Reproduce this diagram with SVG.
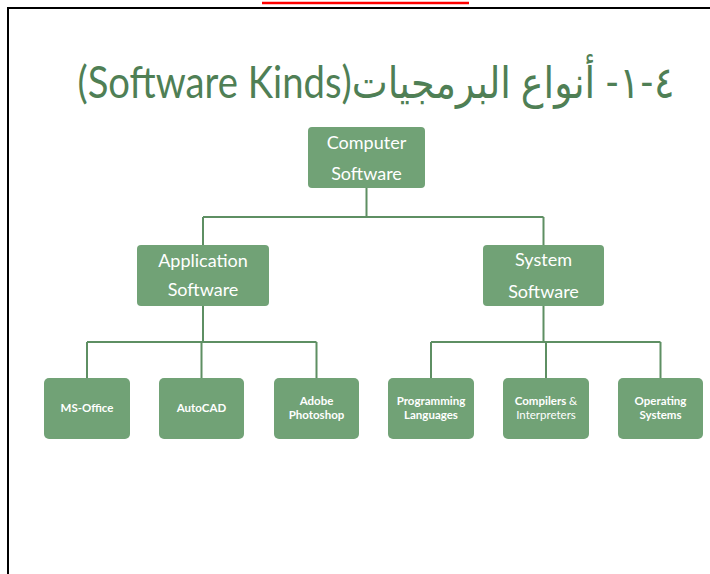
<svg xmlns="http://www.w3.org/2000/svg" width="710" height="574" viewBox="0 0 710 574">
<style>
.box{fill:#71a276;}
.conn{fill:none;stroke:#5e8f63;stroke-width:2;}
.l1{font-family:Lato,"Liberation Sans",sans-serif;font-size:18px;fill:#ffffff;text-anchor:middle;}
.l3{font-family:Lato,"Liberation Sans",sans-serif;font-size:11.5px;font-weight:bold;fill:#ffffff;text-anchor:middle;}
.reg{font-weight:normal;}
.title{font-family:Lato,"DejaVu Sans",sans-serif;font-size:44px;fill:#4f7f55;}
</style>
<rect x="0" y="0" width="710" height="574" fill="#ffffff"/>
<line x1="262" y1="3" x2="469" y2="3" stroke="#ff0000" stroke-width="2.5"/>
<path d="M8 574 V8 H710" fill="none" stroke="#000000" stroke-width="2"/>
<text class="title" x="376" y="98" text-anchor="middle" direction="rtl" textLength="597" lengthAdjust="spacingAndGlyphs">٤-١- أنواع البرمجيات(Software Kinds)</text>
<g id="connectors">
<path class="conn" d="M366.5 188 V217 M203 217 H543.5 M203 217 V245 M543.5 217 V245"/>
<path class="conn" d="M203 306 V342 M87 342 H316.5 M87 342 V378 M201.5 342 V378 M316.5 342 V378"/>
<path class="conn" d="M543.5 306 V342 M431 342 H660.5 M431 342 V378 M546 342 V378 M660.5 342 V378"/>
</g>
<g id="computer-software">
<rect class="box" x="308" y="127" width="117" height="61" rx="4"/>
<text class="l1" x="366.5" y="149">Computer</text>
<text class="l1" x="366.5" y="180">Software</text>
</g>
<g id="application-software">
<rect class="box" x="137" y="245" width="132" height="61" rx="4"/>
<text class="l1" x="203" y="267">Application</text>
<text class="l1" x="203" y="296">Software</text>
</g>
<g id="system-software">
<rect class="box" x="483" y="245" width="121" height="61" rx="4"/>
<text class="l1" x="543.5" y="266">System</text>
<text class="l1" x="543.5" y="298">Software</text>
</g>
<g id="ms-office">
<rect class="box" x="44" y="378" width="86" height="61" rx="5"/>
<text class="l3" x="87" y="412">MS-Office</text>
</g>
<g id="autocad">
<rect class="box" x="159" y="378" width="85" height="61" rx="5"/>
<text class="l3" x="201.5" y="412">AutoCAD</text>
</g>
<g id="adobe-photoshop">
<rect class="box" x="274" y="378" width="85" height="61" rx="5"/>
<text class="l3" x="316.5" y="405">Adobe</text>
<text class="l3" x="316.5" y="419">Photoshop</text>
</g>
<g id="programming-languages">
<rect class="box" x="388" y="378" width="86" height="61" rx="5"/>
<text class="l3" x="431" y="405">Programming</text>
<text class="l3" x="431" y="419">Languages</text>
</g>
<g id="compilers-interpreters">
<rect class="box" x="503" y="378" width="86" height="61" rx="5"/>
<text class="l3" x="546" y="405">Compilers <tspan class="reg">&amp;</tspan></text>
<text class="l3 reg" x="546" y="419">Interpreters</text>
</g>
<g id="operating-systems">
<rect class="box" x="618" y="378" width="85" height="61" rx="5"/>
<text class="l3" x="660.5" y="405">Operating</text>
<text class="l3" x="660.5" y="419">Systems</text>
</g>
</svg>
